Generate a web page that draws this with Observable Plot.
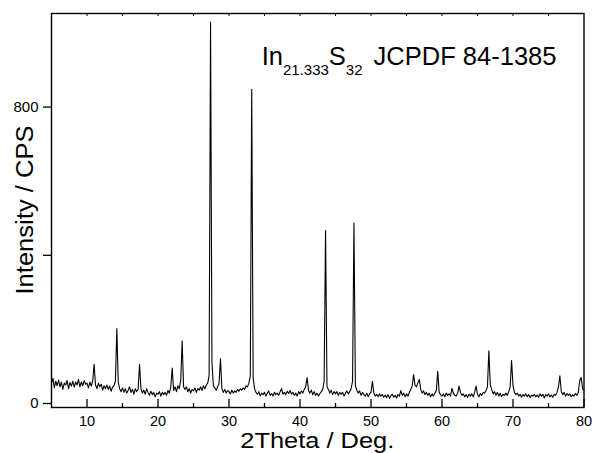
<!DOCTYPE html>
<html><head><meta charset="utf-8">
<script src="https://cdn.jsdelivr.net/npm/d3@7"></script>
<script src="https://cdn.jsdelivr.net/npm/@observablehq/plot@0.6"></script>
<style>
body{margin:0;background:#fff}
#chart{width:592px;height:453px}
</style>
</head><body><div id="chart"></div>
<script>
// 2θ grid: 5.0° to 80.0° in 0.2° steps
const thetaStart = 5, thetaStep = 0.2;
// Intensity (CPS), one row per degree (x.0, x.2, x.4, x.6, x.8)
const int05to20 = [
  55,68,42,60,48,
  63,45,58,38,55,
  50,62,40,57,47,
  60,44,58,50,65,
  45,58,48,62,52,
  55,42,58,47,60,
  106,50,40,55,45,
  52,36,48,40,50,
  38,47,33,45,48,
  60,202,58,40,32,
  42,30,40,28,36,
  45,30,38,25,40,
  32,38,106,40,28,
  36,25,40,30,22,
  33,24,30,18,28
];
const int20to35 = [
  25,32,20,30,24,
  30,22,35,28,45,
  96,35,45,32,48,
  40,62,169,45,38,
  45,32,40,28,38,
  34,42,30,40,36,
  45,35,48,40,50,
  55,75,1029,110,48,
  42,36,45,55,121,
  40,30,38,28,35,
  32,26,36,28,34,
  30,38,33,40,36,
  42,38,48,45,55,
  75,848,70,40,30,
  25,32,20,28,24
];
const int35to50 = [
  30,20,28,34,22,
  27,20,30,24,28,
  22,32,40,25,30,
  24,33,27,35,25,
  30,22,28,20,32,
  26,34,28,38,45,
  70,35,28,36,24,
  32,22,28,20,27,
  32,38,60,467,45,
  38,28,36,24,32,
  26,32,22,30,25,
  30,20,28,34,26,
  32,40,60,487,48,
  36,28,34,22,30,
  24,20,28,18,26
];
const int50to65 = [
  30,60,28,20,25,
  18,26,20,24,17,
  23,16,24,14,21,
  25,17,22,15,24,
  20,35,22,28,18,
  26,20,30,38,48,
  78,50,45,55,65,
  38,28,34,24,30,
  22,28,18,26,20,
  28,35,87,30,24,
  20,26,18,28,22,
  26,20,41,28,22,
  20,28,47,30,22,
  26,18,24,16,25,
  20,26,18,30,47
];
const int65to80 = [
  25,18,27,22,30,
  28,35,45,142,50,
  38,26,32,22,30,
  20,28,18,25,22,
  28,22,32,45,116,
  48,30,24,28,20,
  25,17,24,20,26,
  18,24,16,22,20,
  25,18,23,17,26,
  20,25,15,24,20,
  26,18,23,17,24,
  22,30,45,75,32,
  24,30,20,27,22,
  26,18,24,20,27,
  22,30,62,70,40,
  35
];
const xMajorTicks = [10, 20, 30, 40, 50, 60, 70, 80];
const xMinorTicks = [15, 25, 35, 45, 55, 65, 75];
const xTopTicks = [10, 15, 20, 25, 30, 35, 40, 45, 50, 55, 60, 65, 70, 75];
const yTicks = [0, 400, 800];
const yTickLabels = {0: "0", 800: "800"};
const xTitle = "2Theta / Deg.";
const yTitle = "Intensity / CPS";
const phaseLabel = {main1: "In", sub1: "21.333", main2: "S", sub2: "32", rest: " JCPDF 84-1385", x: 34.67, y: 912};

const intensity = [...int05to20, ...int20to35, ...int35to50, ...int50to65, ...int65to80];
const data = intensity.map((v, i) => ({theta: +(thetaStart + i * thetaStep).toFixed(1), cps: v}));

const W = 592, H = 453, mT = 13, mB = 46, mL = 51, mR = 8.5;
const frameH = H - mT - mB;
const FONT = "'Liberation Sans', Arial, sans-serif";

const plot = Plot.plot({
  width: W, height: H,
  marginLeft: mL, marginRight: mR, marginTop: mT, marginBottom: mB,
  x: {domain: [5, 80]},
  y: {domain: [-10.8, 1052.6]},
  style: {fontFamily: FONT, fontSize: "15px", color: "#000", background: "#fff"},
  marks: [
    Plot.line(data, {x: "theta", y: "cps", stroke: "#000", strokeWidth: 1.1}),
    Plot.ruleX(xMajorTicks, {x: d => d, insetTop: frameH - 8, stroke: "#000", strokeWidth: 1.3}),
    Plot.ruleX(xMinorTicks, {x: d => d, insetTop: frameH - 4, stroke: "#000", strokeWidth: 1.3}),
    Plot.ruleX(xTopTicks, {x: d => d, insetBottom: frameH - 3, stroke: "#000", strokeWidth: 1}),
    Plot.axisX({ticks: xMajorTicks, tickSize: 0, tickPadding: 8, label: null, fontSize: 14.5}),
    Plot.axisY({ticks: yTicks, tickSize: 8, tickPadding: 5, tickFormat: d => yTickLabels[d] ?? "", label: null, fontSize: 15, strokeWidth: 1.3}),
    Plot.frame({stroke: "#000", strokeWidth: 1.4})
  ]
});

document.getElementById("chart").appendChild(plot);
const svg = d3.select(plot);
const sx = plot.scale("x"), sy = plot.scale("y");

// axis titles
svg.append("text")
  .attr("x", (mL + W - mR) / 2).attr("y", 448)
  .attr("text-anchor", "middle").attr("font-size", 22.5).attr("font-family", FONT).attr("fill", "#000")
  .attr("textLength", 154).attr("lengthAdjust", "spacingAndGlyphs")
  .text(xTitle);
svg.append("text")
  .attr("transform", `translate(33,${(mT + H - mB) / 2}) rotate(-90)`)
  .attr("text-anchor", "middle").attr("font-size", 23).attr("font-family", FONT).attr("fill", "#000")
  .attr("textLength", 169).attr("lengthAdjust", "spacingAndGlyphs")
  .text(yTitle);

// phase annotation with subscripts
const t = svg.append("text")
  .attr("x", sx.apply(phaseLabel.x))
  .attr("y", sy.apply(phaseLabel.y))
  .attr("text-anchor", "start")
  .attr("font-size", 25.5)
  .attr("fill", "#000")
  .attr("font-family", FONT)
  .style("white-space", "pre");
t.append("tspan").text(phaseLabel.main1);
t.append("tspan").attr("font-size", 15).attr("dy", 10).text(phaseLabel.sub1);
t.append("tspan").attr("dy", -10).text(phaseLabel.main2);
t.append("tspan").attr("font-size", 15).attr("dy", 10).text(phaseLabel.sub2);
t.append("tspan").attr("dy", -10).attr("dx", 4).text(phaseLabel.rest);
</script>
</body></html>
